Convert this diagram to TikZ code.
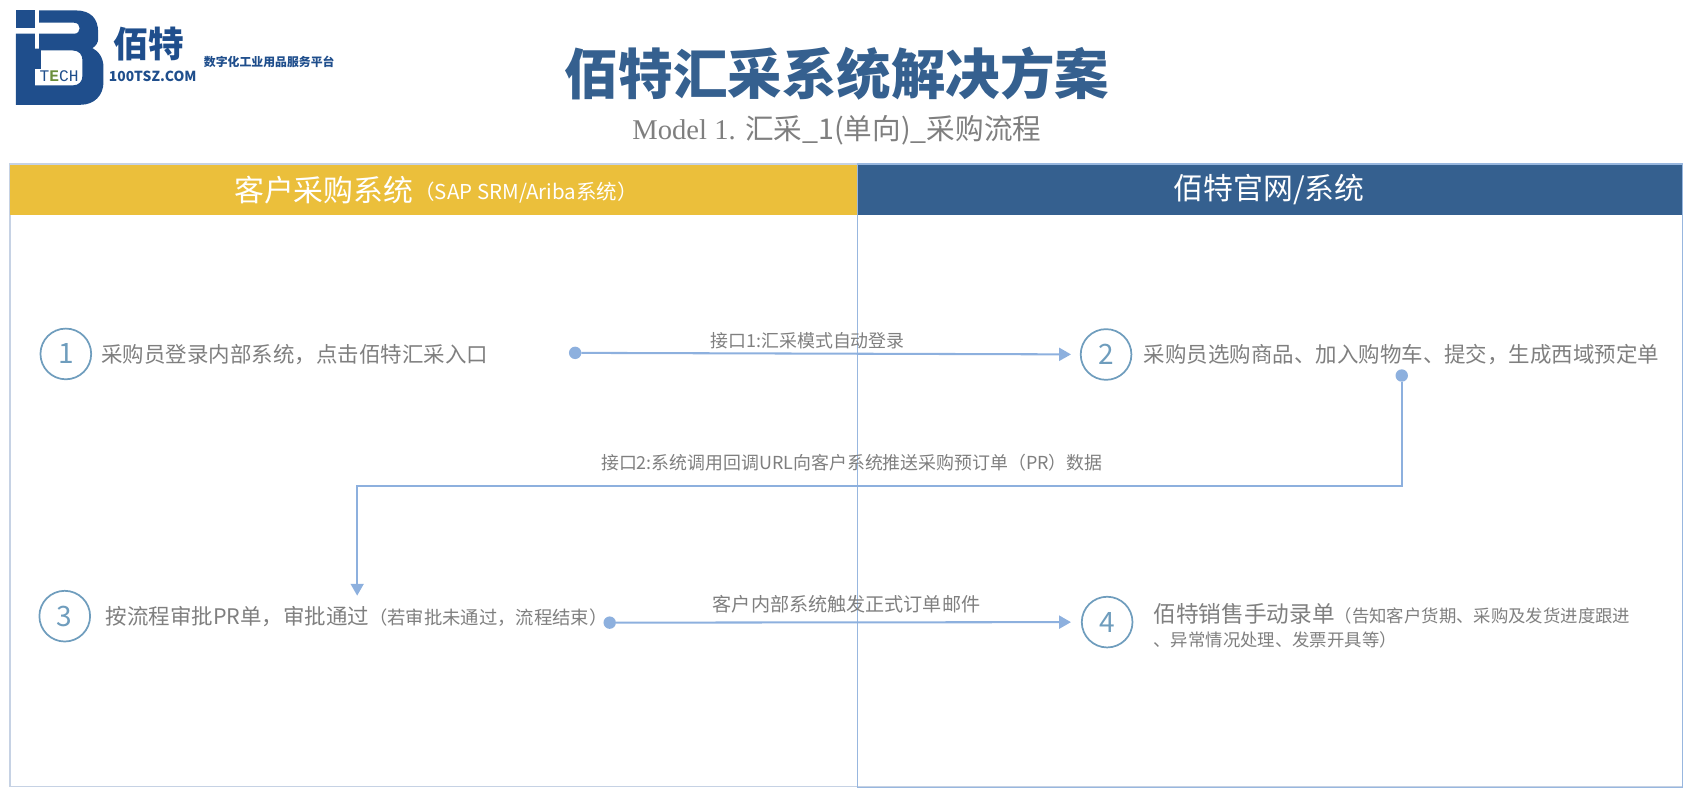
\documentclass[tikz,border=0pt]{standalone}
\usepackage{fontspec}
\setmainfont{Noto Sans CJK SC}
\newfontfamily\latinserif{Liberation Serif}
\newfontfamily\latinmono{Liberation Mono}
\usetikzlibrary{arrows.meta}
\definecolor{navy}{HTML}{1F4E8C}
\definecolor{titleblue}{HTML}{35608F}
\definecolor{gold}{HTML}{EBBF3B}
\definecolor{conn}{HTML}{8DB0DE}
\definecolor{frameline}{HTML}{C6D2E4}
\definecolor{ring}{HTML}{6F9DBD}
\definecolor{txt}{HTML}{7F7F7F}
\definecolor{techgreen}{HTML}{6B8E3A}
\tikzset{
 every node/.style={inner sep=0pt,outer sep=0pt},
 stepnum/.style={circle,draw=ring,line width=1.6pt,minimum size=47pt,text=ring,font=\fontsize{26}{26}\selectfont},
 stepname/.style={anchor=west,text=txt,font=\fontsize{19.9}{24}\selectfont},
 linklabel/.style={text=txt,font=\fontsize{16.6}{18}\selectfont},
 flow/.style={draw=conn,line width=1.9pt,-{Triangle[length=11pt,width=12pt]}},
 startdot/.style={circle,fill=conn,minimum size=11.5pt},
 headtxt/.style={text=white,font=\fontsize{27.7}{30}\selectfont},
}
\begin{document}
\begin{tikzpicture}[x=1pt,y=-1pt]
\useasboundingbox (0,0) rectangle (1568,747);
% logo, drawn in crop pixels
\begin{scope}[shift={(10,5)},x=0.309pt,y=-0.309pt]
\fill[navy] (15,15) rectangle (72,68);
\fill[navy,even odd rule]
 (15,85) -- (72,85) -- (72,130) -- (85,130) -- (85,85) -- (190,85)
 .. controls (212,85) and (212,52) .. (190,52) -- (85,52) -- (85,15) -- (195,15)
 .. controls (240,15) and (262,40) .. (262,80) -- (262,100)
 .. controls (262,112) and (255,122) .. (245,128)
 .. controls (265,138) and (278,160) .. (278,185) -- (278,230)
 .. controls (278,270) and (250,298) .. (210,298) -- (15,298) -- cycle
 (90,135) -- (185,135) .. controls (205,135) and (215,148) .. (215,165) -- (215,210)
 .. controls (215,228) and (205,240) .. (185,240) -- (72,240) -- (72,190) -- (90,190) -- cycle;
\node[text=navy,font=\latinmono\fontsize{15}{15}\selectfont] (techmark) at (145,213) {T\textcolor{techgreen}{\bfseries E}CH};
\end{scope}
\node[text=navy,font=\bfseries\fontsize{33}{33}\selectfont,anchor=west] (brand) at (105,40.5) {佰特};
\node[text=navy,font=\bfseries\fontsize{12.8}{13}\selectfont,anchor=west] (domain) at (101,71) {100TSZ.COM};
\node[text=navy,font=\bfseries\fontsize{11}{12}\selectfont,anchor=west] (slogan) at (189,57) {数字化工业用品服务平台};
% titles
\node[text=titleblue,font=\bfseries\fontsize{50.5}{52}\selectfont] (title) at (775.5,68) {佰特汇采系统解决方案};
\node[text=txt,font=\fontsize{26.5}{30}\selectfont] (subtitle) at (775.5,120.5) {{\latinserif Model 1. }汇采\_1(单向)\_采购流程};
% frames
\draw[frameline,line width=1.5pt] (9,152) rectangle (1559,729);
\fill[gold] (9,153) rectangle (794.5,199);
\fill[titleblue] (794.5,153) rectangle (1559,199);
\draw[conn!80!frameline,line width=1.3pt] (794.5,152) rectangle (1559,730);
\node[headtxt,anchor=west] (headl) at (217,176) {客户采购系统};
\node[text=white,font=\fontsize{19}{20}\selectfont,anchor=west] (headls) at (384,178) {（SAP SRM/Ariba系统）};
\node[headtxt] (headr) at (1176,176) {佰特官网/系统};
% steps
\node[stepnum] (n1) at (61,328) {1};
\node[stepnum] (n2) at (1025,328.5) {2};
\node[stepnum] (n3) at (60,571) {3};
\node[stepnum] (n4) at (1026,576.5) {4};
\node[stepname] (s1) at (94,329) {采购员登录内部系统，点击佰特汇采入口};
\node[stepname] (s2) at (1060,329) {采购员选购商品、加入购物车、提交，生成西域预定单};
\node[stepname] (s3) at (98,571) {按流程审批PR单，审批通过{\fontsize{17}{20}\selectfont（若审批未通过，流程结束）}};
\node[stepname,align=left] (s4) at (1069,580) {{\fontsize{21}{24}\selectfont 佰特销售手动录单}{\fontsize{16.1}{20}\selectfont（告知客户货期、采购及发货进度跟进}\\[-2pt]{\fontsize{16.1}{20}\selectfont 、异常情况处理、发票开具等）}};
% connectors
\node[startdot] (d1) at (533,327) {};
\node[startdot] (d2) at (1299,348) {};
\node[startdot] (d3) at (565,577) {};
\coordinate (a3) at (331,552);
\draw[flow,shorten >=9pt] (d1) -- (n2);
\draw[flow] (d2) -- (1299,450) -- (331,450) -- (a3);
\draw[flow,shorten >=10pt] (d3) -- (n4);
\node[linklabel] (l1) at (748.5,316) {接口1:汇采模式自动登录};
\node[linklabel] (l2) at (789.5,429) {接口2:系统调用回调URL向客户系统推送采购预订单（PR）数据};
\node[linklabel,font=\fontsize{17.7}{20}\selectfont] (l3) at (784.5,560) {客户内部系统触发正式订单邮件};
\end{tikzpicture}
\end{document}
